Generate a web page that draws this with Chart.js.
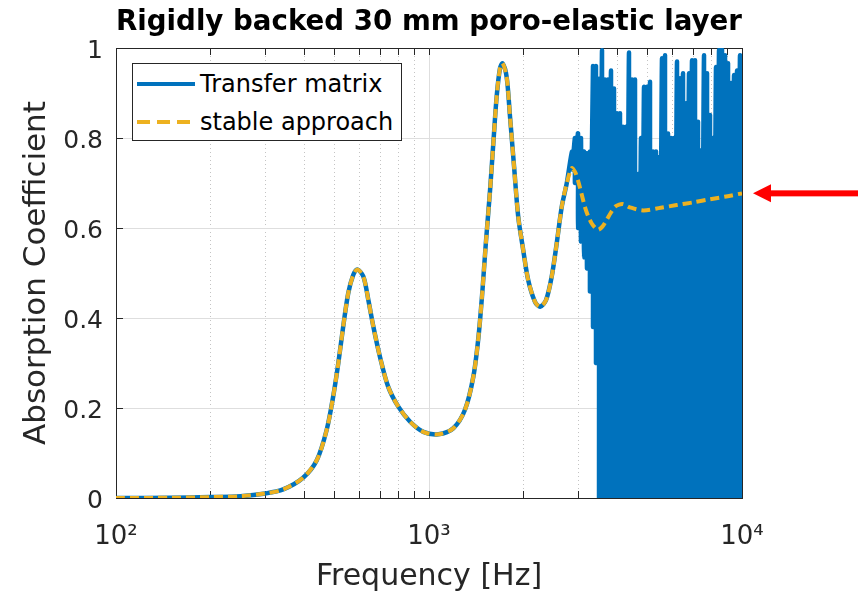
<!DOCTYPE html>
<html>
<head>
<meta charset="utf-8">
<title>Rigidly backed 30 mm poro-elastic layer</title>
<script src="https://cdn.jsdelivr.net/npm/chart.js@4"></script>
<style>
  body { margin: 0; background: #fff; }
  #wrap { position: relative; width: 859px; height: 598px; }
  #legend {
    position: absolute; left: 132px; top: 63px; width: 270px; height: 78px;
    box-sizing: border-box; border: 1px solid #262626; background: #fff;
    font-family: 'DejaVu Sans', sans-serif; font-size: 24px; color: #000;
  }
  #legend .item { position: absolute; left: 4px; height: 38px; display: flex; align-items: center; white-space: nowrap; }
  #legend svg { display: block; margin-right: 5px; }
</style>
</head>
<body>
<div id="wrap">
  <canvas id="chart" width="859" height="598"></canvas>
  <div id="legend"></div>
</div>
<script>
// values (frequency in Hz, absorption coefficient)

// both methods agree up to ~2.8 kHz
const sharedFreq = [100, 150, 200, 250, 300, 342, 396, 438, 471, 494, 513, 532, 552, 573, 590, 617, 640, 664, 697, 741,
    798, 869, 959, 1071, 1196, 1303, 1386, 1439, 1482, 1519, 1567, 1605, 1645, 1686, 1718, 1770, 1815, 1870, 1928, 2000,
    2075, 2181, 2263, 2366, 2466, 2559, 2655, 2754]
const sharedAlpha = [0, 0.0005, 0.002, 0.004, 0.010, 0.019, 0.045, 0.084, 0.151, 0.225, 0.299, 0.381, 0.455, 0.496, 0.508, 0.492, 0.44, 0.381, 0.314, 0.247,
    0.203, 0.170, 0.147, 0.1415, 0.155, 0.196, 0.27, 0.358, 0.462, 0.566, 0.684, 0.788, 0.892, 0.955, 0.966, 0.936, 0.847, 0.736, 0.625, 0.551,
    0.484, 0.436, 0.425, 0.44, 0.492, 0.566, 0.647, 0.699]

// transfer matrix blows up above ~2.8 kHz: each sample swings from a trough to a peak
const noiseFreq = [2863, 2927, 2993, 3059, 3128, 3198, 3269, 3342, 3416, 3493, 3571, 3650, 3732, 3815, 3900, 3987, 4076, 4167, 4260, 4355,
    4453, 4552, 4654, 4757, 4864, 4972, 5083, 5197, 5313, 5431, 5552, 5676, 5803, 5933, 6065, 6200, 6339, 6480, 6625, 6773,
    6924, 7078, 7236, 7398, 7563, 7732, 7904, 8081, 8261, 8446, 8634, 8827, 9024, 9225, 9431, 9642, 9854, 10000]
const noisePeak = [0.77, 0.80, 0.81, 0.80, 0.77, 0.766, 0.77, 0.96, 0.96, 0.93, 0.995, 0.93, 0.93, 0.95, 0.91, 0.855, 0.855, 0.825, 0.825, 0.99,
    0.93, 0.93, 0.72, 0.80, 0.914, 0.914, 0.925, 0.77, 0.77, 0.758, 0.977, 0.984, 0.81, 0.80, 0.80, 0.97, 0.933, 0.944, 0.877, 0.944,
    0.973, 0.973, 0.836, 0.773, 0.984, 0.944, 0.851, 0.80, 0.958, 0.996, 0.996, 0.984, 0.966, 0.922, 0.94, 0.95, 0.984, 0.98]
const noiseTrough = [0.73, 0.70, 0.60, 0.57, 0.535, 0.51, 0.46, 0.38, 0.30, 0, 0, 0, 0, 0, 0, 0, 0, 0, 0, 0,
    0, 0, 0, 0, 0, 0, 0, 0, 0, 0, 0, 0, 0, 0, 0, 0, 0, 0, 0, 0,
    0, 0, 0, 0, 0, 0, 0, 0, 0, 0, 0, 0, 0, 0, 0, 0, 0, 0]

// stable approach keeps going smoothly
const stableTailFreq = [2857, 2930, 3000, 3074, 3148, 3230, 3311, 3400, 3475, 3580, 3693, 3810, 3926, 4050, 4176, 4385, 4838, 5500, 6180, 7000, 7907, 8900, 10000]
const stableTailAlpha = [0.733, 0.724, 0.703, 0.675, 0.647, 0.625, 0.61, 0.600, 0.596, 0.603, 0.618, 0.634, 0.647, 0.652, 0.653, 0.646, 0.639, 0.645, 0.651, 0.657, 0.664, 0.670, 0.677]

const xTickValues = [100, 200, 300, 400, 500, 600, 700, 800, 900, 1000, 2000, 3000, 4000, 5000, 6000, 7000, 8000, 9000, 10000]
const xMajorTicks = [100, 1000, 10000]
const xMajorLabels = ['10²', '10³', '10⁴']
const yTickValues = [0, 0.2, 0.4, 0.6, 0.8, 1]
const yTickLabels = ['0', '0.2', '0.4', '0.6', '0.8', '1']

const blue = '#0072BD'
const yellow = '#EDB120'
const axisColor = '#262626'
const family = "'DejaVu Sans', sans-serif"

// build point lists
const transferPoints = sharedFreq.map((f, i) => ({ x: f, y: sharedAlpha[i] }))
noiseFreq.forEach((f, i) => {
    transferPoints.push({ x: f, y: noisePeak[i] })
    transferPoints.push({ x: f, y: noiseTrough[i] })
})
const stablePoints = sharedFreq.map((f, i) => ({ x: f, y: sharedAlpha[i] }))
    .concat(stableTailFreq.map((f, i) => ({ x: f, y: stableTailAlpha[i] })))

const isMinor = ctx => !!(ctx.tick && !xMajorTicks.includes(ctx.tick.value))

// red arrow pointing at the end of the stable curve
const arrowPlugin = {
    id: 'arrow',
    afterDraw(chart) {
        const { ctx, chartArea, scales } = chart
        const y = scales.y.getPixelForValue(stableTailAlpha[stableTailAlpha.length - 1])
        const tip = chartArea.right + 11
        ctx.save()
        ctx.fillStyle = '#ff0000'
        ctx.beginPath()
        ctx.moveTo(tip, y)
        ctx.lineTo(tip + 18, y - 9)
        ctx.lineTo(tip + 18, y + 9)
        ctx.closePath()
        ctx.fill()
        ctx.fillRect(tip + 17, y - 3, chart.width - tip - 18, 6)
        ctx.restore()
    }
}

const logAxis = (position, extra) => Object.assign({
    type: 'logarithmic',
    position: position,
    min: 100,
    max: 10000,
    afterBuildTicks: s => { s.ticks = xTickValues.map(v => ({ value: v })) },
    border: { color: axisColor, width: 1, dash: ctx => isMinor(ctx) ? [1, 3] : [] },
}, extra)

const chart = new Chart(document.getElementById('chart'), {
    type: 'line',
    data: {
        datasets: [{
            label: 'Transfer matrix',
            data: transferPoints,
            borderColor: blue,
            borderWidth: 4.5,
            borderJoinStyle: 'round',
            borderCapStyle: 'round',
            tension: 0.3,
            pointRadius: 0,
            order: 1
        }, {
            label: 'stable approach',
            data: stablePoints,
            borderColor: yellow,
            borderWidth: 4,
            borderDash: [9, 5],
            tension: 0.3,
            pointRadius: 0,
            order: 0
        }]
    },
    options: {
        responsive: false,
        animation: false,
        events: [],
        layout: { padding: { left: 0, right: 117, top: 0, bottom: 0 } },
        plugins: {
            legend: { display: false },
            tooltip: { enabled: false },
            title: {
                display: true,
                text: 'Rigidly backed 30 mm poro-elastic layer',
                color: '#000',
                fullSize: false,
                font: { family: family, size: 28.7, weight: 'bold' },
                padding: { top: 5.5, bottom: 8.06 }
            }
        },
        scales: {
            x: logAxis('bottom', {
                afterFit: s => { s.height = 100 },
                ticks: {
                    autoSkip: false,
                    maxRotation: 0,
                    padding: 31,
                    color: axisColor,
                    font: { family: family, size: 26 },
                    callback: v => {
                        const i = xMajorTicks.indexOf(v)
                        return i >= 0 ? xMajorLabels[i] : ''
                    }
                },
                grid: {
                    color: ctx => isMinor(ctx) ? '#c4c4c4' : '#dedede',
                    lineWidth: 1,
                    tickLength: -7,
                    tickColor: axisColor,
                    tickBorderDash: []
                },
                title: {
                    display: true,
                    text: 'Frequency [Hz]',
                    color: axisColor,
                    font: { family: family, size: 30 },
                    padding: { top: 0, bottom: 3 }
                }
            }),
            xTop: logAxis('top', {
                afterFit: s => { s.height = 0 },
                ticks: { display: false },
                grid: { drawOnChartArea: false, tickLength: -7, tickColor: axisColor, tickBorderDash: [] }
            }),
            y: {
                type: 'linear',
                position: 'left',
                min: 0,
                max: 1,
                afterBuildTicks: s => { s.ticks = yTickValues.map(v => ({ value: v })) },
                afterFit: s => { s.width = 116 },
                ticks: {
                    padding: 20,
                    labelOffset: 3,
                    color: axisColor,
                    font: { family: family, size: 25 },
                    callback: (v, i) => yTickLabels[i]
                },
                grid: { color: '#dedede', lineWidth: 1, tickLength: -7, tickColor: axisColor },
                border: { color: axisColor, width: 1 },
                title: {
                    display: true,
                    text: 'Absorption Coefficient',
                    color: axisColor,
                    font: { family: family, size: 31 },
                    padding: { top: 17.9, bottom: 0 }
                }
            },
            yRight: {
                type: 'linear',
                position: 'right',
                min: 0,
                max: 1,
                afterBuildTicks: s => { s.ticks = yTickValues.map(v => ({ value: v })) },
                afterFit: s => { s.width = 0 },
                ticks: { display: false },
                grid: { drawOnChartArea: false, tickLength: -7, tickColor: axisColor },
                border: { color: axisColor, width: 1 }
            }
        }
    },
    plugins: [arrowPlugin]
})

// legend box inside the plot, built from the datasets
const legendEl = document.getElementById('legend')
chart.data.datasets.forEach((ds, i) => {
    const row = document.createElement('div')
    row.className = 'item'
    row.style.top = (1 + i * 38) + 'px'
    const dash = ds.borderDash ? ' stroke-dasharray="13 7"' : ''
    row.innerHTML = `<svg width="58" height="6"><line x1="0" y1="3" x2="58" y2="3" stroke="${ds.borderColor}" stroke-width="4"${dash}/></svg><span>${ds.label}</span>`
    legendEl.appendChild(row)
})
</script>
</body>
</html>
